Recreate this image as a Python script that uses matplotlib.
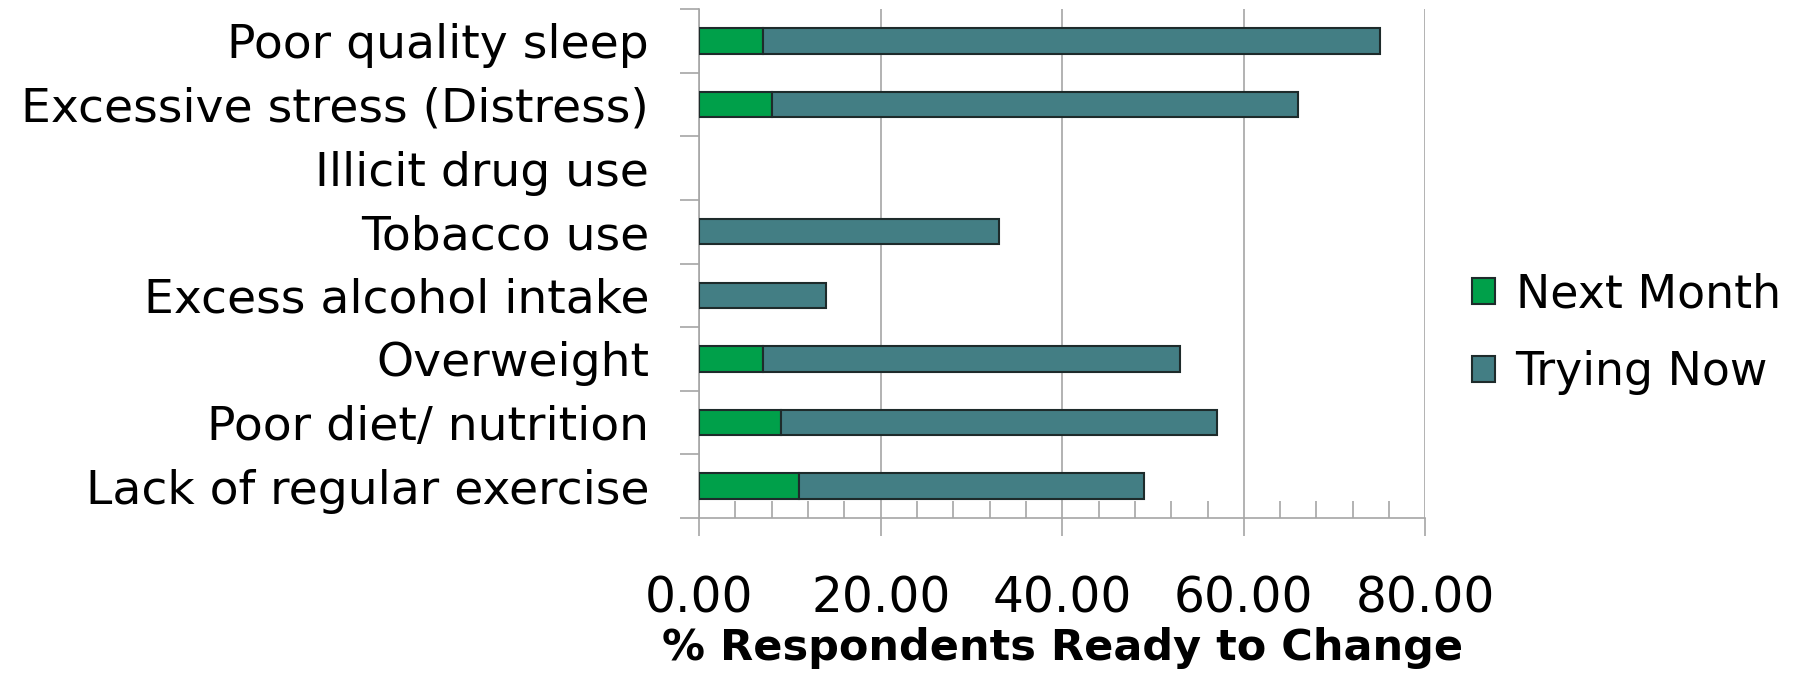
import numpy as np
import matplotlib
matplotlib.use("Agg")
from matplotlib import pyplot as plt
from matplotlib.ticker import MultipleLocator, FixedLocator

# categories listed bottom -> top
categories = [
    "Lack of regular exercise",
    "Poor diet/ nutrition",
    "Overweight",
    "Excess alcohol intake",
    "Tobacco use",
    "Illicit drug use",
    "Excessive stress (Distress)",
    "Poor quality sleep",
]
next_month = [11, 9, 7, 0, 0, 0, 8, 7]
trying_now = [38, 48, 46, 14, 33, 0, 58, 68]

green = "#00a04a"
teal = "#437e84"
grid_grey = "#a6a6a6"
edge = "#1e2b2b"

plt.rcParams["font.family"] = ["DejaVu Sans"]

fig = plt.figure(figsize=(18.02, 6.74), dpi=100)
ax = fig.add_axes([0.388, 0.2315, 0.403, 0.7551])

y = np.arange(len(categories))
h = 0.4
nm = np.array(next_month)
tn = np.array(trying_now)

# empty segments get no outline
ax.barh(y, nm, height=h, color=green, edgecolor=edge,
        linewidth=[1.5 if v > 0 else 0 for v in nm],
        label="Next Month", zorder=3)
ax.barh(y, tn, left=nm, height=h, color=teal, edgecolor=edge,
        linewidth=[1.5 if v > 0 else 0 for v in tn],
        label="Trying Now", zorder=3)

ax.set_xlim(0, 80)
ax.set_ylim(-0.5, len(categories) - 0.5)

# x axis: labelled every 20, small inward ticks every 4
ax.xaxis.set_major_locator(MultipleLocator(20))
ax.xaxis.set_minor_locator(MultipleLocator(4))
ax.set_xticklabels([f"{v:.2f}" for v in ax.get_xticks()])
ax.tick_params(axis="x", which="major", direction="out", length=13,
               width=1.2, color=grid_grey, labelsize=35, pad=28)
ax.tick_params(axis="x", which="minor", direction="in", length=12,
               width=1.2, color=grid_grey)
ax.grid(axis="x", which="major", color=grid_grey, linewidth=1.2, zorder=0)

# y axis: labels at category centres, tick marks on the boundaries
ax.set_yticks(y)
ax.set_yticklabels(categories)
ax.yaxis.set_minor_locator(FixedLocator(np.arange(-0.5, len(categories), 1)))
ax.tick_params(axis="y", which="major", length=0, labelsize=34, pad=36)
ax.tick_params(axis="y", which="minor", direction="out", length=14,
               width=1.2, color=grid_grey)

for side in ("top", "right"):
    ax.spines[side].set_visible(False)
for side in ("left", "bottom"):
    ax.spines[side].set_color(grid_grey)
    ax.spines[side].set_linewidth(1.2)

ax.set_xlabel("% Respondents Ready to Change", fontsize=31,
              fontweight="bold", labelpad=3)

handles, labels = ax.get_legend_handles_labels()
fig.legend(handles, labels, loc="center left", bbox_to_anchor=(0.794, 0.505),
           frameon=False, fontsize=33, handlelength=0.5, handleheight=0.5,
           handletextpad=0.45, labelspacing=0.72)

fig.savefig("out.png", dpi=100)
